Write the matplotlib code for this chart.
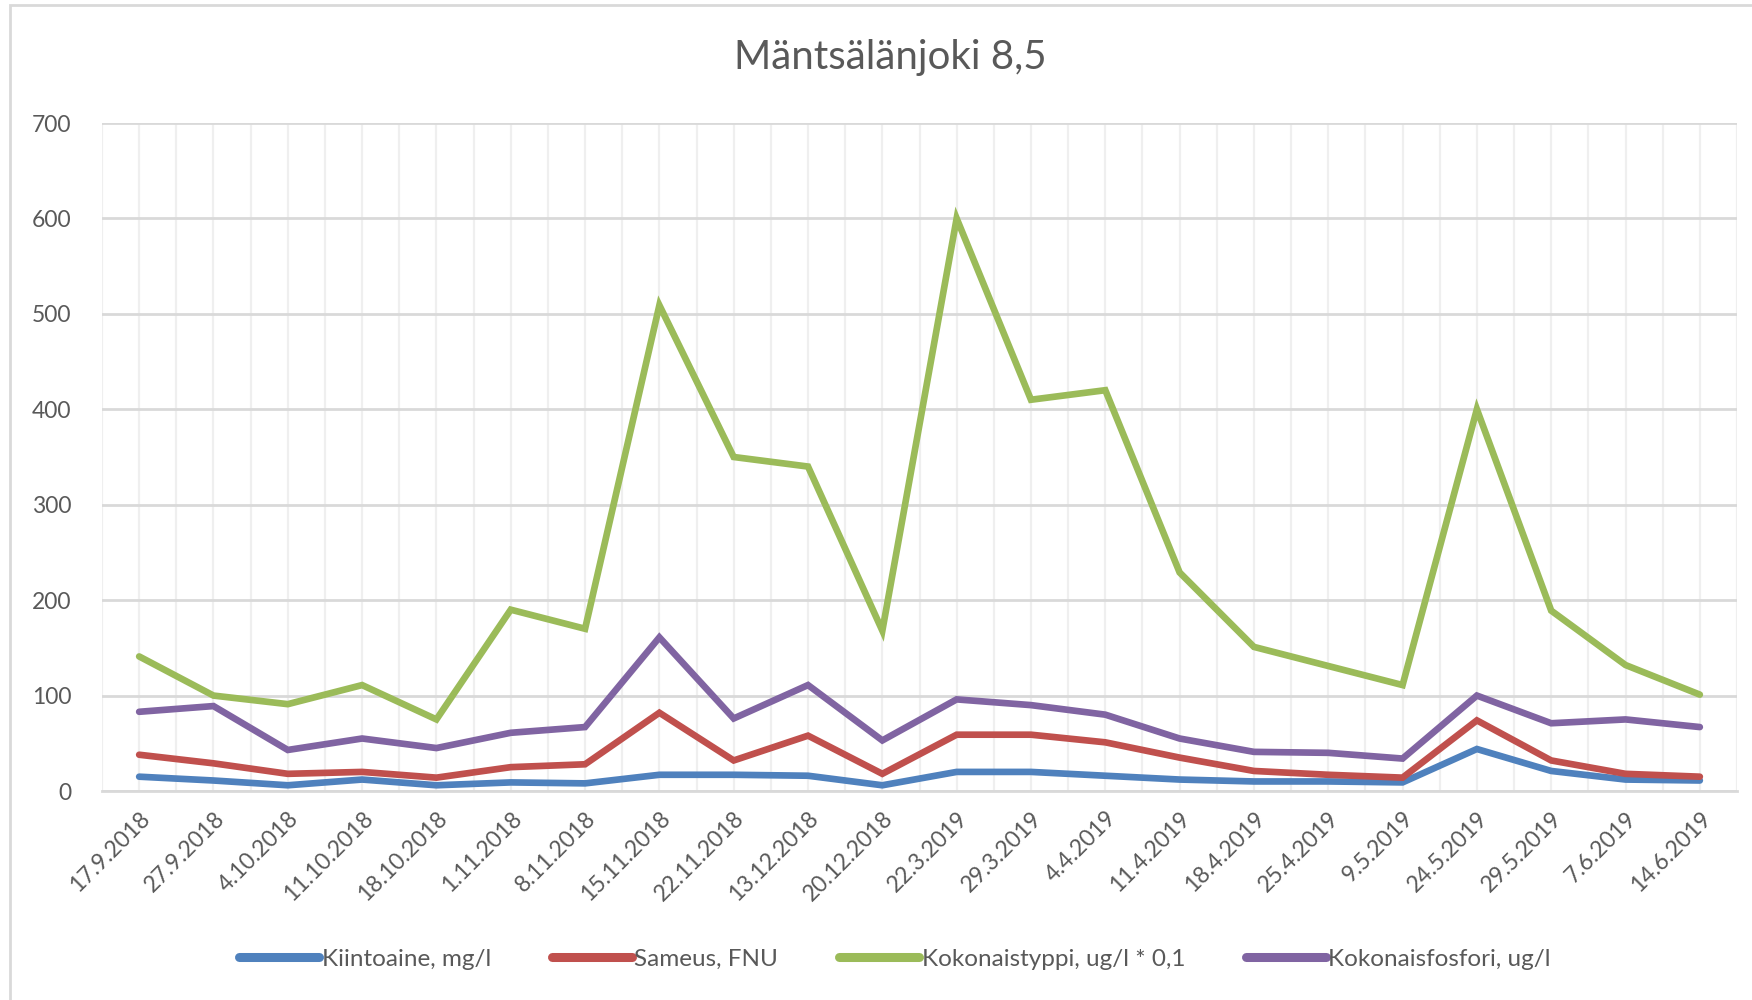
import matplotlib
matplotlib.use("Agg")
import matplotlib.pyplot as plt
import numpy as np
from matplotlib.patches import Rectangle

# Mäntsälänjoki 8,5 -- vedenlaatu, näytteenottopäivät syys 2018 - kesä 2019
DATES = ["17.9.2018", "27.9.2018", "4.10.2018", "11.10.2018", "18.10.2018", "1.11.2018",
         "8.11.2018", "15.11.2018", "22.11.2018", "13.12.2018", "20.12.2018", "22.3.2019",
         "29.3.2019", "4.4.2019", "11.4.2019", "18.4.2019", "25.4.2019", "9.5.2019",
         "24.5.2019", "29.5.2019", "7.6.2019", "14.6.2019"]

kiintoaine = [15, 11, 6, 12, 6, 9, 8, 17, 17, 16, 6, 20, 20, 16, 12, 10, 10, 9, 44, 21, 12, 11]
sameus = [38, 29, 18, 20, 14, 25, 28, 82, 32, 58, 18, 59, 59, 51, 35, 21, 17, 14, 74, 32, 18, 15]
kokonaistyppi = [141, 100, 91, 111, 75, 190, 170, 509, 350, 340, 168, 600, 410, 420, 229, 151, 131, 111, 400, 189, 132, 101]
kokonaisfosfori = [83, 89, 43, 55, 45, 61, 67, 161, 76, 111, 53, 96, 90, 80, 55, 41, 40, 34, 100, 71, 75, 67]

SERIES = [
    ("Kiintoaine, mg/l", kiintoaine, "#4F81BD"),
    ("Sameus, FNU", sameus, "#C0504D"),
    ("Kokonaistyppi, ug/l * 0,1", kokonaistyppi, "#9BBB59"),
    ("Kokonaisfosfori, ug/l", kokonaisfosfori, "#8064A2"),
]

INK = "#595959"
GRID_MAJOR = "#D9D9D9"
GRID_MINOR = "#EFEFEF"
FONT = ["Lato", "DejaVu Sans"]

plt.rcParams["font.family"] = FONT

fig = plt.figure(figsize=(17.52, 10), dpi=100)
ax = fig.add_axes((102 / 1752, 1 - 791 / 1000, (1737 - 102) / 1752, (791 - 123) / 1000))

x = np.arange(len(DATES))
for label, values, color in SERIES:
    ax.plot(x, values, color=color, linewidth=4.8, label=label, solid_capstyle="round",
            solid_joinstyle="miter", zorder=3)

ax.set_xlim(-0.5, len(DATES) - 0.5)
ax.set_ylim(0, 700)
ax.set_yticks(np.arange(0, 701, 100))
ax.set_xticks(x)
ax.set_xticks(np.arange(-0.5, len(DATES), 1), minor=True)
ax.set_xticklabels(DATES, rotation=45, ha="right", rotation_mode="anchor")

ax.yaxis.grid(True, color=GRID_MAJOR, linewidth=2, zorder=1)
ax.xaxis.grid(True, which="both", color=GRID_MINOR, linewidth=1.6, zorder=0)
for s in ["top", "right", "left"]:
    ax.spines[s].set_visible(False)
ax.spines["bottom"].set_color(GRID_MAJOR)
ax.spines["bottom"].set_linewidth(2)

ax.tick_params(axis="both", which="both", length=0, colors=INK, labelsize=16.5)
ax.tick_params(axis="y", pad=22)
ax.tick_params(axis="x", pad=12)

fig.text(890 / 1752, 1 - 57 / 1000, "Mäntsälänjoki 8,5", ha="center", va="center",
         fontsize=29, color=INK)

leg = fig.legend(loc="center", bbox_to_anchor=(895 / 1752, 1 - 959 / 1000), ncol=4,
                 frameon=False, fontsize=17.5, handlelength=3.3, handletextpad=0.1,
                 columnspacing=2.5, labelcolor=INK)
for line in leg.get_lines():
    line.set_linewidth(6.5)

# chart area border
fig.patches.append(Rectangle((10 / 1752, -0.05), 1.2, 1.045, transform=fig.transFigure,
                             fill=False, edgecolor=GRID_MAJOR, linewidth=2))

fig.savefig("out.png", dpi=100, facecolor="white")
